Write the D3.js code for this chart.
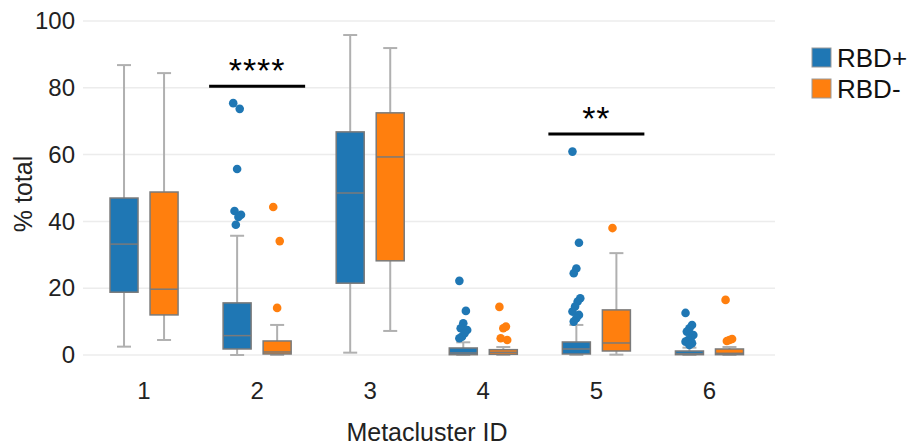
<!DOCTYPE html>
<html><head><meta charset="utf-8">
<script src="https://cdn.jsdelivr.net/npm/d3@7"></script>
<style>body{margin:0;background:#fff}svg{display:block;font-family:"Liberation Sans",Arial,sans-serif}</style>
</head><body><svg id="c" width="909" height="447"></svg>
<script>
const categories = ["1","2","3","4","5","6"];
const groups = ["RBD+","RBD-"];
const colors = ["#1f77b4","#ff7f0e"];
// [whiskerLow, Q1, median, Q3, whiskerHigh]
const rbdPosStats = [
  [2.5,18.8,33.2,47.0,86.8],
  [0,1.8,5.8,15.6,35.7],
  [0.7,21.5,48.5,66.8,95.8],
  [0,0.1,0.6,2.1,3.8],
  [0,0.3,1.8,3.9,9.0],
  [0,0.1,0.4,1.2,2.2]
];
const rbdNegStats = [
  [4.5,12.0,19.7,48.8,84.4],
  [0,0.3,0.9,4.2,9.0],
  [7.2,28.2,59.3,72.5,91.9],
  [0,0.2,0.8,1.6,2.4],
  [0.1,1.2,3.6,13.5,30.5],
  [0,0.1,0.5,1.8,2.4]
];
const rbdPosOutliers = [
  [],
  [75.4,73.7,55.7,43.1,42.0,41.3,39.0],
  [],
  [22.2,13.2,9.5,8.0,7.5,6.5,5.5,5.0],
  [60.9,33.6,25.9,24.5,17.0,16.0,14.5,13.0,12.0,11.0,10.0],
  [12.6,9.0,8.0,7.0,6.0,5.0,4.5,4.0,3.5,3.0]
];
const rbdNegOutliers = [
  [],
  [44.3,34.1,14.1],
  [],
  [14.4,8.5,8.0,5.0,4.5],
  [38.0],
  [16.5,4.8,4.5,4.2]
];
const yTicks = [0,20,40,60,80,100];
const significance = [{cat:"2", level:80.5, label:"****"},{cat:"5", level:66.2, label:"**"}];

const svg = d3.select("#c");
const x = d3.scaleBand().domain(categories).range([87.5,766]);
const xg = d3.scaleBand().domain(groups).range([0, x.bandwidth()]).paddingInner(0.3).paddingOuter(0.5625);
const y = d3.scaleLinear().domain([0,100]).range([355,21]);
const FONT = "Liberation Sans, Arial, sans-serif";

// grid
svg.append("g").selectAll("line").data(yTicks).join("line")
  .attr("x1",83).attr("x2",775).attr("y1",d=>y(d)).attr("y2",d=>y(d))
  .attr("stroke","#ececec").attr("stroke-width",1.5);

// y axis labels
const ya = svg.append("g").attr("transform","translate(83,0)")
  .call(d3.axisLeft(y).tickValues(yTicks).tickSize(0).tickPadding(8));
ya.select(".domain").remove();
ya.selectAll("text").attr("font-size",24).attr("fill","#222").attr("font-family",FONT);

// x axis labels
const xa = svg.append("g").attr("transform","translate(0,370)")
  .call(d3.axisBottom(x).tickSize(0).tickPadding(12));
xa.select(".domain").remove();
xa.selectAll("text").attr("font-size",24).attr("fill","#222").attr("font-family",FONT);

svg.append("text").attr("x",427).attr("y",441).attr("text-anchor","middle")
  .attr("font-size",25).attr("fill","#222").text("Metacluster ID");
svg.append("text").attr("transform","translate(32,194) rotate(-90)").attr("text-anchor","middle")
  .attr("font-size",25).attr("fill","#222").text("% total");

const allStats = [rbdPosStats, rbdNegStats];
const allOut = [rbdPosOutliers, rbdNegOutliers];
const bw = xg.bandwidth();
groups.forEach((g,gi)=>{
  const layer = svg.append("g");
  categories.forEach((c,ci)=>{
    const s = allStats[gi][ci];
    const x0 = x(c)+xg(g), xc = x0+bw/2;
    const grp = layer.append("g");
    grp.append("line").attr("x1",xc).attr("x2",xc).attr("y1",y(s[0])).attr("y2",y(s[4]))
      .attr("stroke","#b0b0b0").attr("stroke-width",2);
    [s[0],s[4]].forEach(v=>grp.append("line").attr("x1",xc-7).attr("x2",xc+7).attr("y1",y(v)).attr("y2",y(v))
      .attr("stroke","#b0b0b0").attr("stroke-width",2));
    grp.append("rect").attr("x",x0).attr("width",bw).attr("y",y(s[3])).attr("height",Math.max(1,y(s[1])-y(s[3])))
      .attr("fill",colors[gi]).attr("stroke","#7a7a7a").attr("stroke-width",1.5);
    grp.append("line").attr("x1",x0).attr("x2",x0+bw).attr("y1",y(s[2])).attr("y2",y(s[2]))
      .attr("stroke","#7a7a7a").attr("stroke-width",1.5);
    allOut[gi][ci].forEach((v,i)=>{
      const j = ((i*5)%7 - 3)*1.3;
      grp.append("circle").attr("cx",xc+j).attr("cy",y(v)).attr("r",4.3).attr("fill",colors[gi]);
    });
  });
});

// significance
significance.forEach(sg=>{
  const cx = x(sg.cat)+x.bandwidth()/2;
  svg.append("line").attr("x1",cx-48).attr("x2",cx+48).attr("y1",y(sg.level)).attr("y2",y(sg.level))
    .attr("stroke","#000").attr("stroke-width",3);
  svg.append("text").attr("x",cx).attr("y",y(sg.level)-4).attr("text-anchor","middle")
    .attr("font-size",34).attr("letter-spacing",1).attr("fill","#000").text(sg.label);
});

// legend
const lg = svg.append("g").attr("transform","translate(812,48)");
groups.forEach((g,i)=>{
  lg.append("rect").attr("x",0).attr("y",i*31).attr("width",19).attr("height",19)
    .attr("fill",colors[i]).attr("stroke","#999").attr("stroke-width",1);
  lg.append("text").attr("x",25).attr("y",i*31+19).attr("font-size",26).attr("fill","#111").text(g);
});
</script></body></html>
